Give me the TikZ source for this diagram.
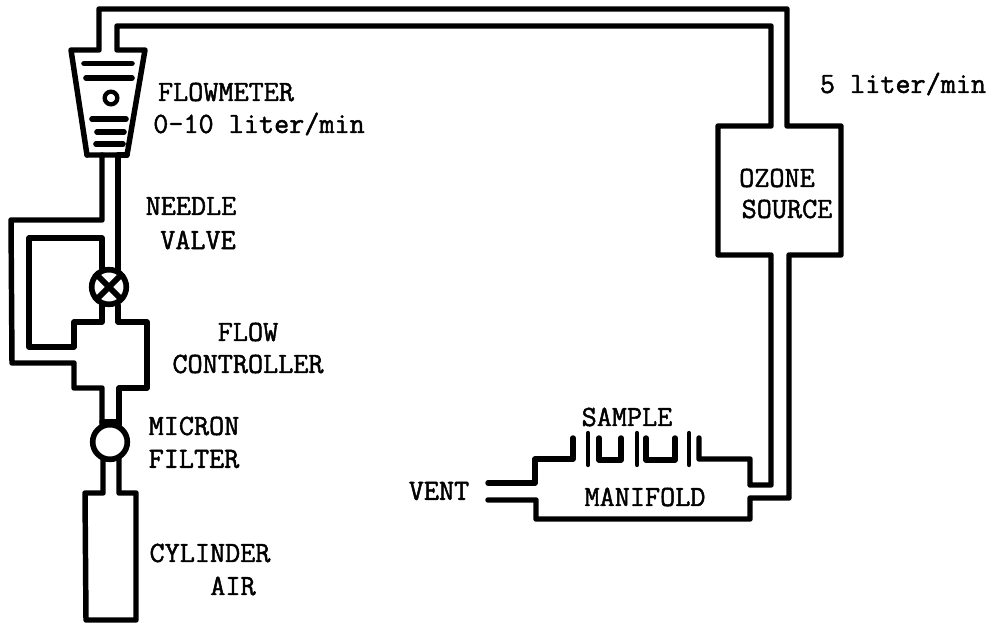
\documentclass[tikz,border=0pt]{standalone}
\usepackage{fontspec}
\setmonofont[FakeBold=1.6]{Latin Modern Mono}
\tikzset{
  pipe/.style={line width=4.1pt,line join=round,line cap=round},
  bar/.style={line width=4.2pt,line cap=round},
  thin part/.style={line width=3.2pt,line cap=round},
  joint/.style={circle,draw,line width=4.2pt,minimum size=26pt,inner sep=0pt,fill=white},
  lbl/.style={inner sep=0pt,font=\ttfamily\fontsize{22}{24}\selectfont,text=black}
}
\begin{document}
\begin{tikzpicture}[x=0.75pt,y=-0.75pt]
\useasboundingbox (0,0) rectangle (994,623);
% outer loop: flowmeter -> top -> ozone source -> manifold
\draw[pipe] (102,155) -- (127,155) -- (145,50) -- (117,50) -- (117,26) -- (771,26) -- (771,126) -- (718,126) -- (718,255) -- (771,255) -- (771,485) -- (750,485) -- (750,459) -- (699,459) -- (699,438);
\draw[pipe] (87,155) -- (71,50) -- (99,50) -- (99,9) -- (787,9) -- (787,126) -- (841,126) -- (841,255) -- (789,255) -- (789,498) -- (750,498) -- (750,519) -- (536,519) -- (536,500) -- (488,500);
\draw[pipe] (87,155) -- (102,155) -- (102,220) -- (11,220) -- (12,363) -- (74,363) -- (74,388) -- (102,388) -- (102,425);
\draw[pipe] (127,155) -- (118,155) -- (118,270);
\draw[pipe] (102,270) -- (102,238) -- (29,238) -- (29,347) -- (74,347) -- (74,322) -- (102,322) -- (102,305);
\draw[pipe] (118,305) -- (118,322) -- (147,322) -- (147,388) -- (119,388) -- (119,425);
\draw[pipe] (102,422) -- (119,422);
% flowmeter details
\draw[bar] (84,63.5) -- (132,63.5);
\draw[bar] (86,78) -- (132,78);
\draw[bar] (92,119) -- (126,119);
\draw[bar] (97,132) -- (124,132);
\draw[bar] (96,144) -- (123,144);
\node[circle,draw,line width=3.2pt,minimum size=9.5pt,inner sep=0pt] (float) at (111,98) {};
% valve and filter
\node[joint] (valve) at (109,287) {};
\draw[line width=4.4pt] (valve.45) -- (valve.225) (valve.135) -- (valve.315);
\node[joint] (filter) at (110,442) {};
% cylinder
\draw[pipe] (103,459) -- (103,493) -- (85,493) -- (86,620) -- (136,620) -- (136,493) -- (119,493) -- (119,459);
% manifold left and sample
\draw[pipe] (488,483) -- (535,483) -- (535,459) -- (573,459) -- (573,438);
\draw[thin part] (588,433) -- (588,465);
\draw[thin part] (637,433) -- (637,465);
\draw[thin part] (689,433) -- (689,465);
\draw[pipe] (599,438) -- (599,460) -- (621,460) -- (621,438);
\draw[pipe] (646,438) -- (646,460) -- (675,460) -- (675,438);
% labels
\node[lbl] (flowmeter) at (226,92) {FLOWMETER};
\node[lbl] (range) at (259,124) {0-10 liter/min};
\node[lbl] (rate) at (903,84) {5 liter/min};
\node[lbl] (needle) at (191,206) {NEEDLE};
\node[lbl] (valvel) at (198,240) {VALVE};
\node[lbl] (flow) at (248,332) {FLOW};
\node[lbl] (controller) at (248,364) {CONTROLLER};
\node[lbl] (micron) at (194,426) {MICRON};
\node[lbl] (filterl) at (194,459) {FILTER};
\node[lbl] (cylinder) at (210,553) {CYLINDER};
\node[lbl] (air) at (233,586) {AIR};
\node[lbl] (vent) at (439,491) {VENT};
\node[lbl] (sample) at (627,417) {SAMPLE};
\node[lbl] (manifold) at (645,497) {MANIFOLD};
\node[lbl] (ozone) at (777,178) {OZONE};
\node[lbl] (source) at (787,209) {SOURCE};
\end{tikzpicture}
\end{document}
